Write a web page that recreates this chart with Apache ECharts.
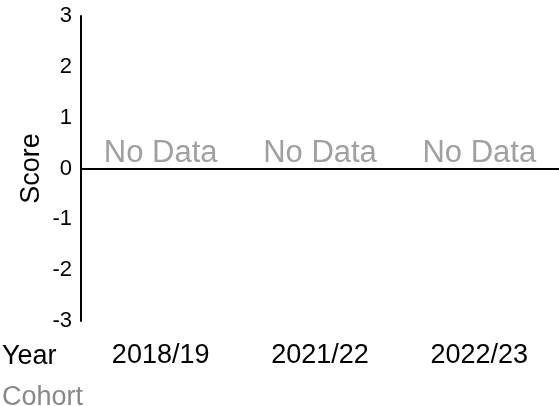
<!DOCTYPE html>
<html><head><meta charset="utf-8">
<script src="https://cdn.jsdelivr.net/npm/echarts@6/dist/echarts.min.js"></script>
<style>html,body{margin:0;padding:0;background:#fff}#c{width:559px;height:406px}</style>
</head><body><div id="c"></div>
<script>
var categories = ['2018/19', '2021/22', '2022/23'];
var scores = [null, null, null];
var noDataText = ['No Data', 'No Data', 'No Data'];
var yTicks = [-3, -2, -1, 0, 1, 2, 3];
var FONT = '"Liberation Sans", Arial, sans-serif';

var chart = echarts.init(document.getElementById('c'), null, {renderer: 'canvas'});
chart.setOption({
  animation: false,
  textStyle: {fontFamily: FONT},
  title: [
    {text: 'Year', left: 2, top: 343, textStyle: {fontFamily: FONT, fontSize: 27, fontWeight: 'normal', color: '#000'}, padding: 0},
    {text: 'Cohort', left: 2, top: 384, textStyle: {fontFamily: FONT, fontSize: 27, fontWeight: 'normal', color: '#888'}, padding: 0}
  ],
  grid: {left: 81, right: 0, top: 16, bottom: 85, containLabel: false},
  xAxis: {
    type: 'category',
    data: categories,
    axisLine: {show: false, onZero: false},
    axisTick: {show: false},
    axisLabel: {fontFamily: FONT, fontSize: 27, color: '#000', margin: 21},
    splitLine: {show: false}
  },
  yAxis: {
    type: 'value',
    min: yTicks[0], max: yTicks[yTicks.length - 1], interval: 1,
    name: 'Score', nameLocation: 'middle', nameRotate: 90, nameGap: 36, nameMoveOverlap: false,
    nameTextStyle: {fontFamily: FONT, fontSize: 27, color: '#000'},
    axisLine: {show: true, lineStyle: {color: '#000', width: 2}},
    axisTick: {show: false},
    axisLabel: {fontFamily: FONT, fontSize: 22, color: '#000', margin: 9},
    splitLine: {show: false}
  },
  series: [
    {
      type: 'bar', data: scores, barWidth: '60%',
      markLine: {
        silent: true, symbol: 'none', label: {show: false},
        lineStyle: {color: '#000', width: 2, type: 'solid'},
        data: [{yAxis: 0}]
      }
    },
    {
      type: 'scatter', symbolSize: 0,
      data: categories.map(function (c, i) { return {value: [c, 0], label: {formatter: noDataText[i]}}; }),
      label: {show: true, position: 'top', distance: 0, fontFamily: FONT, fontSize: 31, color: '#888'}
    }
  ]
});
</script></body></html>
